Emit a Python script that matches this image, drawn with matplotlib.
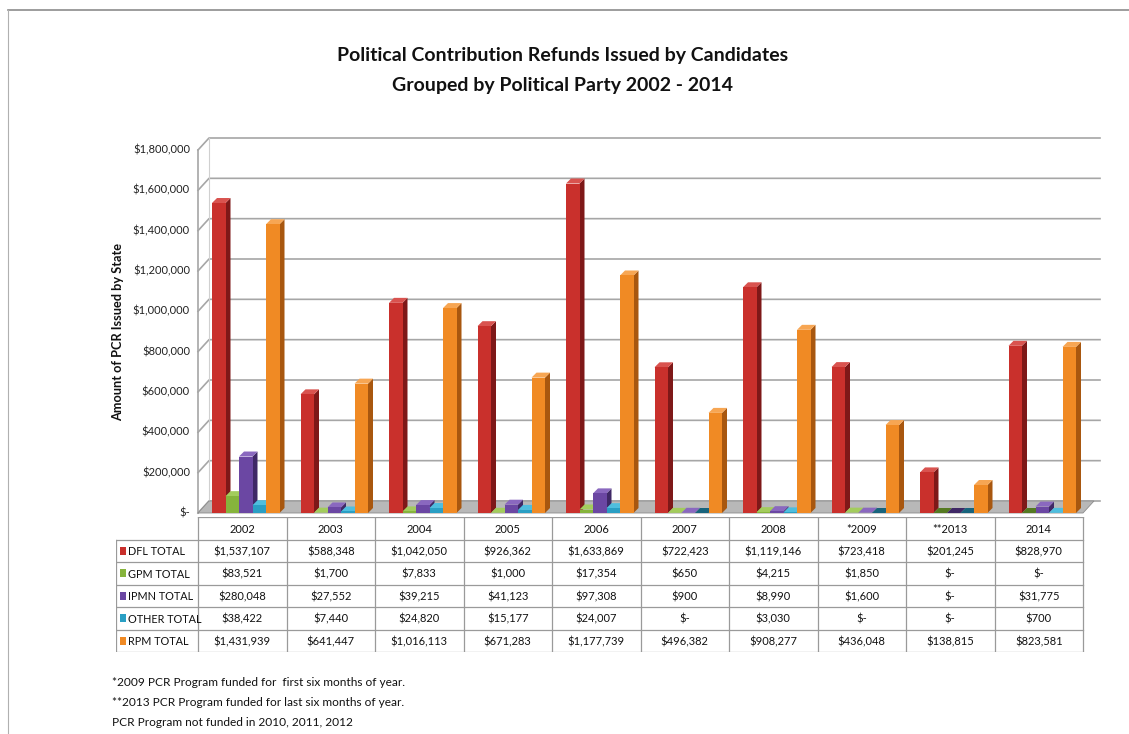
import numpy as np
import matplotlib
matplotlib.use("Agg")
import matplotlib.pyplot as plt
from matplotlib.patches import Polygon, Rectangle
from matplotlib.lines import Line2D

plt.rcParams["font.family"] = ["Lato", "DejaVu Sans"]

# data
years = ["2002", "2003", "2004", "2005", "2006", "2007", "2008", "*2009", "**2013", "2014"]
series_names = ["DFL TOTAL", "GPM TOTAL", "IPMN TOTAL", "OTHER TOTAL", "RPM TOTAL"]
dfl = [1537107, 588348, 1042050, 926362, 1633869, 722423, 1119146, 723418, 201245, 828970]
gpm = [83521, 1700, 7833, 1000, 17354, 650, 4215, 1850, 0, 0]
ipmn = [280048, 27552, 39215, 41123, 97308, 900, 8990, 1600, 0, 31775]
other = [38422, 7440, 24820, 15177, 24007, 0, 3030, 0, 0, 700]
rpm = [1431939, 641447, 1016113, 671283, 1177739, 496382, 908277, 436048, 138815, 823581]
series = [dfl, gpm, ipmn, other, rpm]

front_cols = ["#c9302c", "#86b43c", "#6b47a3", "#2a9fc4", "#f08a24"]
side_cols = ["#7e1818", "#557a22", "#3f2866", "#18647d", "#a8570f"]
top_cols = ["#d9534f", "#a3cc5c", "#8a68bf", "#4fbede", "#f7a653"]

yticks = np.arange(0, 1800001, 200000)

W, H = 1129, 734
fig = plt.figure(figsize=(W / 100, H / 100), dpi=100)


def box(l, t, r, b):
    return [l / W, 1 - b / H, (r - l) / W, (b - t) / H]


col_px = 88.5
ymax = 1800000
ax = fig.add_axes(box(198, 150, 1100, 513))
ax.set_xlim(0, (1100 - 198) / col_px)
ax.set_ylim(0, ymax)
ax.axis("off")

# perspective offsets of the back wall and of the bar depth
back_dx = 11 / col_px
back_dy = 12 / 363 * ymax
bar_dx = 5 / col_px
bar_dy = 5 / 363 * ymax
grid_col = "#a6a6a6"

# walls and gridlines
x_end = ax.get_xlim()[1]
for v in yticks:
    ax.add_line(Line2D([0, back_dx, x_end], [v, v + back_dy, v + back_dy],
                       color=grid_col, lw=1.2, clip_on=False, zorder=1))
ax.add_line(Line2D([0, 0], [0, ymax], color=grid_col, lw=1.2, clip_on=False, zorder=1))
ax.add_line(Line2D([back_dx, back_dx], [back_dy, ymax + back_dy], color="#d0d0d0",
                   lw=0.8, clip_on=False, zorder=1))
for v in yticks:
    lab = "$-" if v == 0 else "${:,.0f}".format(v)
    ax.text(-8 / col_px, v, lab, ha="right", va="center", fontsize=8, color="#222222")

# floor
floor_x0 = 0
floor_x1 = 10
ax.add_patch(Polygon([[floor_x0, 0], [floor_x1, 0], [floor_x1 + back_dx, back_dy],
                      [floor_x0 + back_dx, back_dy]], closed=True, facecolor="#b8b8b8",
                     edgecolor="#8c8c8c", lw=0.6, clip_on=False, zorder=2))

# bars
bw = 13.5 / col_px
start = 14 / col_px
z = 3
for i in range(len(years)):
    for k, vals in enumerate(series):
        h = vals[i]
        x0 = i + start + k * bw
        zz = z + i * 10 + k
        topc = top_cols[k] if h > 0 else side_cols[k]
        ax.add_patch(Polygon([[x0 + bw, 0], [x0 + bw + bar_dx, bar_dy],
                              [x0 + bw + bar_dx, h + bar_dy], [x0 + bw, h]], closed=True,
                             facecolor=side_cols[k], edgecolor="none", clip_on=False, zorder=zz))
        ax.add_patch(Polygon([[x0, h], [x0 + bw, h], [x0 + bw + bar_dx, h + bar_dy],
                              [x0 + bar_dx, h + bar_dy]], closed=True,
                             facecolor=topc, edgecolor="none", clip_on=False, zorder=zz))
        ax.bar(x0, h, width=bw, align="edge", color=front_cols[k], edgecolor="none",
               zorder=zz, clip_on=False)

ax.text(-80 / col_px, ymax * 0.5, "Amount of PCR Issued by State", rotation=90,
        ha="center", va="center", fontsize=9.2, fontweight="bold", color="#111111")

# data table
lab_px = 198 - 116
tx = fig.add_axes(box(116, 517, 1100, 652))
tx.set_xlim(-lab_px / col_px, x_end)
tx.set_ylim(6, 0)
tx.axis("off")
tcol = "#9a9a9a"
for c in range(11):
    tx.add_line(Line2D([c, c], [0, 6], color=tcol, lw=0.9))
tx.add_line(Line2D([-lab_px / col_px] * 2, [1, 6], color=tcol, lw=0.9))
tx.add_line(Line2D([0, 10], [0, 0], color=tcol, lw=0.9))
for r in range(1, 7):
    tx.add_line(Line2D([-lab_px / col_px, 10], [r, r], color=tcol, lw=0.9))
for i, yr in enumerate(years):
    tx.text(i + 0.5, 0.55, yr, ha="center", va="center", fontsize=8, color="#111111")
for k, name in enumerate(series_names):
    tx.add_patch(Rectangle((-lab_px / col_px + 4 / col_px, k + 1.5 - 0.17), 6 / col_px, 0.34,
                           facecolor=front_cols[k], edgecolor="none"))
    tx.text(-lab_px / col_px + 12 / col_px, k + 1.55, name, ha="left", va="center",
            fontsize=7.8, color="#111111")
    for i, v in enumerate(series[k]):
        s = "$-" if v == 0 else "${:,.0f}".format(v)
        tx.text(i + 0.5, k + 1.55, s, ha="center", va="center", fontsize=8, color="#111111")

# title, notes and frame
fig.text(563 / W, 1 - 55 / H, "Political Contribution Refunds Issued by Candidates",
         ha="center", va="center", fontsize=14, fontweight="bold", color="#111111")
fig.text(563 / W, 1 - 86 / H, "Grouped by Political Party 2002 - 2014",
         ha="center", va="center", fontsize=14, fontweight="bold", color="#111111")
notes = ["*2009 PCR Program funded for  first six months of year.",
         "**2013 PCR Program funded for last six months of year.",
         "PCR Program not funded in 2010, 2011, 2012"]
for j, n in enumerate(notes):
    fig.text(112 / W, 1 - (683 + 20 * j) / H, n, ha="left", va="center", fontsize=8.6,
             color="#111111")

fig.add_artist(Line2D([8 / W, 1], [1 - 10 / H, 1 - 10 / H], color="#8c8c8c", lw=1.2))
fig.add_artist(Line2D([8 / W, 8 / W], [1 - 10 / H, 0], color="#b0b0b0", lw=0.8))

fig.savefig("out.png", dpi=100)
